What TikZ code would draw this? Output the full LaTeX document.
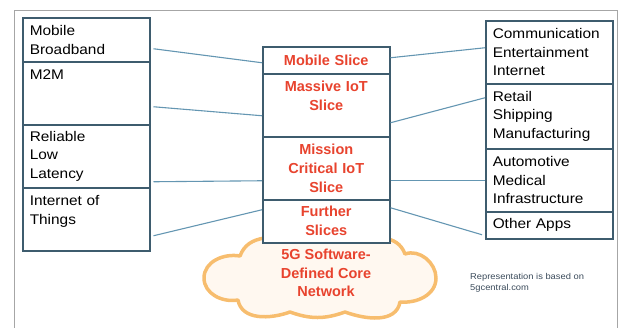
\documentclass[tikz,border=0pt]{standalone}
\usepackage{fontspec}
\setmainfont{Liberation Sans}
\newfontfamily\widesans[FakeStretch=1.1]{Liberation Sans}
\definecolor{boxline}{HTML}{3E5C6E}
\definecolor{linkline}{HTML}{6496B2}
\definecolor{slicered}{HTML}{E8432E}
\definecolor{cloudline}{HTML}{F7BD6E}
\definecolor{cloudfill}{HTML}{FFF8F0}
\definecolor{frameline}{HTML}{A6A6A6}
\definecolor{notetext}{HTML}{3A4A5A}
\tikzset{
  cell/.style={draw=boxline, line width=1.5pt, fill=white, anchor=north west,
    minimum width=127pt, inner xsep=7pt, inner ysep=0pt, text width=113pt,
    align=left, font=\widesans\fontsize{14}{18.5}\selectfont},
  slicecell/.style={cell, align=center, text=slicered,
    font=\bfseries\fontsize{14.5}{19}\selectfont},
  link/.style={draw=linkline, line width=1.1pt},
  cloudedge/.style={draw=cloudline, line width=3.5pt, fill=cloudfill, line join=round}
}
\begin{document}
\begin{tikzpicture}[x=1pt,y=-1pt]
\useasboundingbox (0,0) rectangle (621,327);
% outer frame, open at the bottom
\draw[frameline, line width=1pt] (14,330) -- (14,10) -- (617,10) -- (617,330);

% core network cloud behind the slice stack
\path[cloudedge]
  (240,256) to[out=70,in=175] (300,239)
  to[out=5,in=175] (350,239)
  to[out=5,in=110] (405,254)
  to[out=20,in=90] (436,278)
  to[out=-90,in=-5] (400,302)
  to[out=-100,in=-20] (345,312)
  to[out=-160,in=-20] (290,312)
  to[out=-160,in=-80] (238,300)
  to[out=-170,in=-90] (204,278)
  to[out=90,in=170] cycle;
\node[text=slicered, align=center, font=\bfseries\fontsize{14.5}{18.5}\selectfont]
  (coretext) at (326,273) {5G Software-\\Defined Core\\Network};

% use cases (left column)
\node[cell, minimum height=44pt] (L1) at (22,17) {Mobile\\Broadband};
\node[cell, minimum height=63pt] (L2) at (22,61) {M2M\\\mbox{}\\\mbox{}};
\node[cell, minimum height=63pt] (L3) at (22,124) {Reliable\\Low\\Latency};
\node[cell, minimum height=63pt] (L4) at (22,187) {Internet of\\Things\\\mbox{}};

% network slices (middle column)
\node[slicecell, minimum height=27pt] (M1) at (262,46) {Mobile Slice};
\node[slicecell, minimum height=63pt] (M2) at (262,73) {Massive IoT\\Slice\\\mbox{}};
\node[slicecell, minimum height=63pt] (M3) at (262,136) {Mission\\Critical IoT\\Slice};
\node[slicecell, minimum height=43pt] (M4) at (262,199) {Further\\Slices};

% applications (right column)
\node[cell, minimum height=63pt] (R1) at (485,20) {Communication\\Entertainment\\Internet};
\node[cell, minimum height=65pt] (R2) at (485,83) {Retail\\Shipping\\Manufacturing};
\node[cell, minimum height=63pt] (R3) at (485,148) {Automotive\\Medical\\Infrastructure};
\node[cell, minimum height=27pt] (R4) at (485,211) {Other Apps};

% use cases to slices
\draw[link] ([xshift=3pt,yshift=-9pt]L1.east) -- ([yshift=-2.5pt]M1.west);
\draw[link] ([xshift=3pt,yshift=-13.5pt]L2.east) -- ([yshift=-10.5pt]M2.west);
\draw[link] ([xshift=3pt,yshift=-25.5pt]L3.east) -- ([yshift=-12.5pt]M3.west);
\draw[link] ([xshift=3pt,yshift=-16.5pt]L4.east) -- ([yshift=11.5pt]M4.west);

% slices to applications
\draw[link] ([yshift=2.5pt]M1.east) -- ([yshift=4.5pt]R1.west);
\draw[link] ([yshift=-17.5pt]M2.east) -- ([yshift=18.5pt]R2.west);
\draw[link] ([yshift=-12.5pt]M3.east) -- ([yshift=-0.5pt]R3.west);
\draw[link] ([yshift=13.5pt]M4.east) -- ([xshift=-3pt,yshift=-9.5pt]R4.west);

% source note
\node[anchor=north west, inner sep=0pt, align=left, text=notetext,
  font=\widesans\fontsize{8.5}{11}\selectfont] (note) at (470,273)
  {Representation is based on\\5gcentral.com};
\end{tikzpicture}
\end{document}
